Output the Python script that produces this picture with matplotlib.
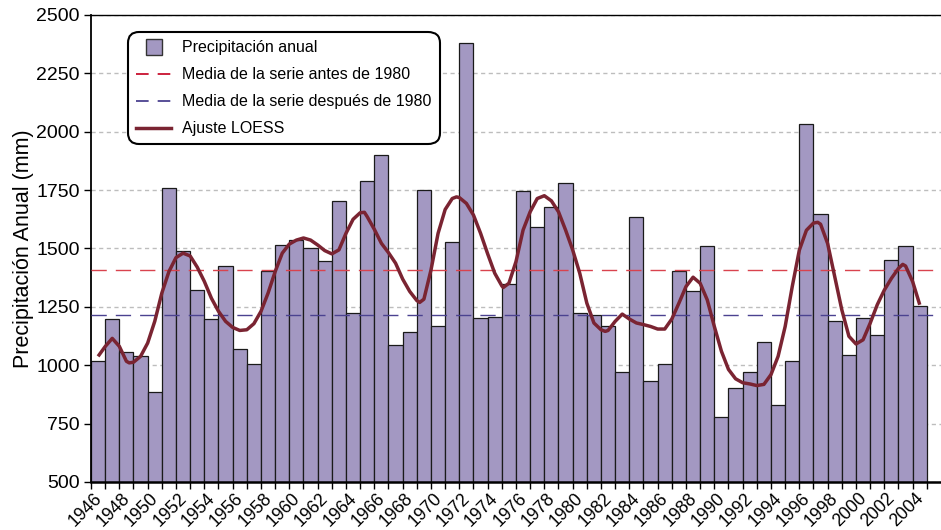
import matplotlib
matplotlib.use('Agg')
import matplotlib.pyplot as plt
from matplotlib.lines import Line2D
import numpy as np

plt.rcParams['font.family'] = ['Liberation Sans', 'DejaVu Sans']

# Datos: precipitacion anual (mm)
years = list(range(1946, 2005))
precip = [1018, 1200, 1056, 1039, 887, 1757, 1488, 1322, 1200, 1426,
          1070, 1005, 1403, 1517, 1537, 1502, 1448, 1703, 1224, 1790,
          1902, 1088, 1142, 1750, 1166, 1526, 2380, 1202, 1208, 1347,
          1745, 1590, 1676, 1781, 1224, 1214, 1166, 972, 1637, 931,
          1005, 1405, 1320, 1510, 778, 901, 972, 1098, 831, 1017,
          2032, 1647, 1189, 1045, 1201, 1129, 1452, 1510, 1254]

media_antes = 1410
media_despues = 1216

# Ajuste LOESS (medio ano)
loess_years = [1946.0, 1946.5, 1947.0, 1947.5, 1948.0, 1948.2, 1948.5, 1949.0, 1949.5,
               1950.0, 1950.5, 1951.0, 1951.5, 1952.0, 1952.5, 1953.0, 1953.5,
               1954.0, 1954.5, 1955.0, 1955.5, 1956.0, 1956.5, 1957.0, 1957.5,
               1958.0, 1958.5, 1959.0, 1959.5, 1960.0, 1960.5, 1961.0, 1961.5,
               1962.0, 1962.5, 1963.0, 1963.5, 1964.0, 1964.5, 1964.8, 1965.0,
               1965.5, 1966.0, 1966.5, 1967.0, 1967.5, 1968.0, 1968.5, 1968.7,
               1969.0, 1969.5, 1970.0, 1970.5, 1971.0, 1971.3, 1971.5, 1972.0,
               1972.5, 1973.0, 1973.5, 1974.0, 1974.5, 1974.6, 1975.0, 1975.5,
               1976.0, 1976.5, 1977.0, 1977.5, 1978.0, 1978.5, 1979.0, 1979.5,
               1980.0, 1980.5, 1981.0, 1981.5, 1981.8, 1982.0, 1982.5, 1983.0,
               1983.5, 1984.0, 1984.5, 1985.0, 1985.5, 1986.0, 1986.5, 1987.0,
               1987.5, 1988.0, 1988.5, 1989.0, 1989.5, 1990.0, 1990.5, 1991.0,
               1991.5, 1992.0, 1992.5, 1993.0, 1993.5, 1994.0, 1994.5, 1995.0,
               1995.5, 1996.0, 1996.5, 1996.8, 1997.0, 1997.5, 1998.0, 1998.5,
               1999.0, 1999.5, 2000.0, 2000.5, 2001.0, 2001.5, 2002.0, 2002.5,
               2002.8, 2003.0, 2003.5, 2004.0]
loess_vals = [1038, 1080, 1115, 1081, 1017, 1010, 1013, 1038, 1095,
              1188, 1309, 1401, 1461, 1480, 1468, 1420, 1359,
              1287, 1231, 1188, 1162, 1149, 1152, 1178, 1231,
              1309, 1401, 1480, 1519, 1536, 1545, 1536, 1515,
              1491, 1477, 1494, 1565, 1625, 1653, 1655, 1636,
              1582, 1522, 1482, 1437, 1369, 1316, 1277, 1269,
              1283, 1408, 1565, 1667, 1714, 1721, 1718, 1693,
              1643, 1565, 1477, 1394, 1340, 1333, 1351, 1444,
              1579, 1657, 1714, 1726, 1704, 1657, 1579, 1494,
              1394, 1266, 1181, 1152, 1145, 1149, 1188, 1219,
              1198, 1181, 1174, 1166, 1155, 1155, 1198, 1266,
              1337, 1377, 1351, 1280, 1166, 1060, 982, 942,
              925, 920, 913, 918, 960, 1038, 1166, 1337,
              1493, 1578, 1609, 1612, 1604, 1521, 1379, 1237,
              1124, 1091, 1109, 1180, 1259, 1322, 1372, 1415,
              1432, 1425, 1358, 1259]

tick_years = years[::2]

fig = plt.figure(figsize=(9.41, 5.30), dpi=100)
ax = fig.add_axes([0.0967, 0.0906, 0.9033, 0.8811])

pos = np.arange(len(years))
ax.bar(pos, precip, width=1.0, align='edge', bottom=0, color='#a398c2',
       edgecolor='#1a1a1a', linewidth=0.9, zorder=2)

ax.axhline(media_antes, color='#d9434e', linewidth=1.0, dashes=(11, 6.5), zorder=3)
ax.axhline(media_despues, color='#4b4290', linewidth=1.0, dashes=(11, 6.5), zorder=3)

lx = np.array(loess_years) - years[0] + 0.5
ax.plot(lx, loess_vals, color='#7a2432', linewidth=2.5, solid_joinstyle='round',
        solid_capstyle='butt', zorder=4)

ax.set_xlim(0, 60)
ax.set_ylim(500, 2500)
ax.set_yticks(np.arange(500, 2501, 250))
ax.yaxis.grid(True, color='#bdbdbd', linestyle=(0, (3, 2.5)), linewidth=1.0)
ax.set_axisbelow(True)

# ticks de x: uno por ano, etiqueta cada dos
ax.set_xticks(np.arange(0, 60), minor=True)
ax.set_xticks([p + 1 for p in pos[::2]])
ax.set_xticklabels([str(y) for y in tick_years], rotation=45, ha='right',
                   fontsize=12.8)
ax.tick_params(axis='x', which='both', direction='out', length=5, width=1,
               pad=0.5, color='black')
ax.tick_params(axis='y', direction='out', length=5, width=1, pad=3,
               labelsize=14)

ax.spines['right'].set_visible(False)
ax.spines['left'].set_linewidth(1.3)
ax.spines['top'].set_linewidth(1.0)
ax.spines['bottom'].set_linewidth(1.8)

ax.set_ylabel('Precipitación Anual (mm)', fontsize=15.5, labelpad=2)

handles = [
    Line2D([], [], linestyle='none', marker='s', markersize=12,
           markerfacecolor='#a398c2', markeredgecolor='#333333', markeredgewidth=1.0),
    Line2D([], [], color='#c8102e', linewidth=1.3, dashes=(7, 5)),
    Line2D([], [], color='#4b4290', linewidth=1.3, dashes=(7, 5)),
    Line2D([], [], color='#7a2432', linewidth=2.5),
]
labels = ['Precipitación anual', 'Media de la serie antes de 1980',
          'Media de la serie después de 1980', 'Ajuste LOESS']
leg = ax.legend(handles, labels, loc='upper left', bbox_to_anchor=(0.0435, 0.963),
                borderaxespad=0, fontsize=11.5, handlelength=2.2,
                handletextpad=0.7, labelspacing=0.75, borderpad=0.5,
                frameon=True, fancybox=True, framealpha=1)
frame = leg.get_frame()
frame.set_edgecolor('black')
frame.set_linewidth(1.5)
frame.set_boxstyle('round', pad=0, rounding_size=0.7)
leg.set_zorder(10)

fig.savefig('out.png', dpi=100)
